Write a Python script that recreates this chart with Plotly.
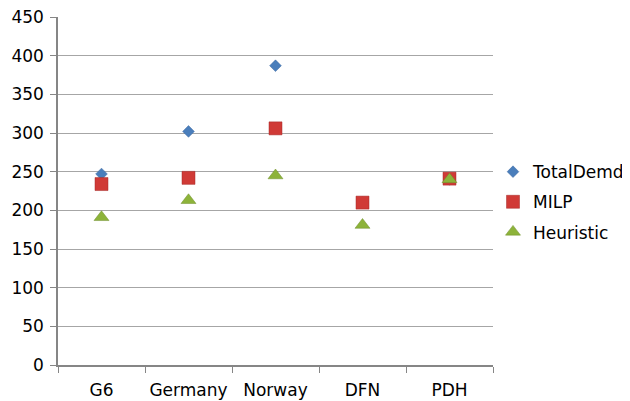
import plotly.graph_objects as go

categories = ["G6", "Germany", "Norway", "DFN", "PDH"]
total_demd = [247, 302, 387, 210, 240]
milp = [234, 242, 306, 210, 241]
heuristic = [191, 213, 245, 181, 240]

# The page body has an 8px margin, so the figure is sized/positioned to compensate.
W, H = 622, 393

fig = go.Figure()
fig.add_trace(go.Scatter(x=categories, y=total_demd, mode="markers", name="TotalDemd",
                         legendgroup="a",
                         marker=dict(symbol="diamond", size=9, color="#4a7ebb",
                                     line=dict(width=0.5, color="#3a66a0"))))
fig.add_trace(go.Scatter(x=categories, y=milp, mode="markers", name="MILP",
                         legendgroup="b",
                         marker=dict(symbol="square", size=13, color="#d03a36",
                                     line=dict(width=0.5, color="#a52a28"))))
fig.add_trace(go.Scatter(x=categories, y=heuristic, mode="markers", name="Heuristic",
                         legendgroup="c",
                         marker=dict(symbol="triangle-up", size=13, color="#8db33a",
                                     line=dict(width=0.5, color="#6f8f2a"))))

fig.update_layout(
    width=W, height=H,
    margin=dict(l=50, r=W - 485, t=9, b=H - 357, autoexpand=False),
    paper_bgcolor="white", plot_bgcolor="white",
    font=dict(family="DejaVu Sans, sans-serif", size=17, color="#000000"),
    showlegend=True,
    legend=dict(x=1.0, y=0.468, xanchor="left", yanchor="middle",
                font=dict(size=17), itemsizing="trace", tracegroupgap=5,
                traceorder="grouped", bgcolor="rgba(0,0,0,0)", itemwidth=30),
    xaxis=dict(type="category", showgrid=False, showline=True, linecolor="#868686",
               linewidth=1.5, ticks="outside", tickson="boundaries", ticklen=6,
               tickcolor="#868686", range=[-0.5, 4.5], zeroline=False,
               tickangle=0, ticklabelstandoff=9),
    yaxis=dict(range=[0, 450], dtick=50, showgrid=True, gridcolor="#a6a6a6",
               gridwidth=1, showline=True, linecolor="#868686", linewidth=1.5,
               ticks="outside", ticklen=6, tickcolor="#868686", zeroline=False,
               ticklabelstandoff=3, ticklabeloverflow="allow"),
)

fig.write_html("out.html")
